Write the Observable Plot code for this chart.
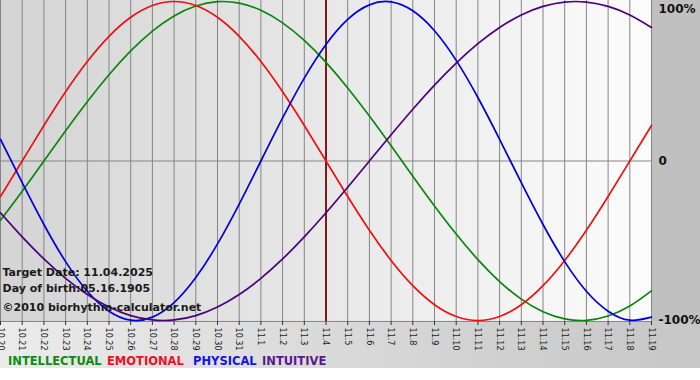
<!DOCTYPE html>
<html><head><meta charset="utf-8">
<script src="https://cdn.jsdelivr.net/npm/d3@7"></script>
<script src="https://cdn.jsdelivr.net/npm/@observablehq/plot@0.6"></script>
<style>
body{margin:0;background:#fff;}
#wrap{position:relative;width:700px;height:368px;
background:
 linear-gradient(to right,#d4d4d4,#fcfcfc) 0 0/651px 321px no-repeat,
 linear-gradient(#c0c0c0,#c0c0c0) 651px 0/49px 321px no-repeat,
 linear-gradient(to right,#ebebeb,#c6c6c6) 0 321px/700px 47px no-repeat;
font-family:"DejaVu Sans",Verdana,sans-serif;}
#chart svg{display:block;}
.leg{position:absolute;top:354px;font-weight:bold;font-size:11.5px;line-height:14px;white-space:nowrap;}
</style>
</head><body>
<div id="wrap"><div id="chart"></div>
<span class="leg" style="left:8px;color:#108a10">INTELLECTUAL</span>
<span class="leg" style="left:107px;color:#ee1122">EMOTIONAL</span>
<span class="leg" style="left:193px;color:#1414dd">PHYSICAL</span>
<span class="leg" style="left:262px;color:#5a1890">INTUITIVE</span>
</div>
<script>
// day offsets relative to the target date (11.04.2025)
const dayOffsets = d3.range(-15, 16);
const dayLabels = ["10.20","10.21","10.22","10.23","10.24","10.25","10.26","10.27","10.28","10.29","10.30","10.31",
  "11.1","11.2","11.3","11.4","11.5","11.6","11.7","11.8","11.9","11.10","11.11","11.12","11.13","11.14","11.15","11.16","11.17","11.18","11.19"];
const physical = [0.136,-0.136,-0.398,-0.631,-0.817,-0.942,-0.998,-0.979,-0.888,-0.731,-0.520,-0.270,0,0.270,0.520,0.731,
  0.888,0.979,0.998,0.942,0.817,0.631,0.398,0.136,-0.136,-0.398,-0.631,-0.817,-0.942,-0.998,-0.979];
const emotional = [-0.2225,0,0.2225,0.4339,0.6235,0.7818,0.9010,0.9749,1.0,0.9749,0.9010,0.7818,0.6235,0.4339,0.2225,0,
  -0.2225,-0.4339,-0.6235,-0.7818,-0.9010,-0.9749,-1.0,-0.9749,-0.9010,-0.7818,-0.6235,-0.4339,-0.2225,0,0.2225];
const intellectual = [-0.3717,-0.1893,0,0.1893,0.3717,0.5406,0.6901,0.8146,0.9096,0.9718,0.9989,0.9898,0.9450,0.8660,0.7557,0.6182,
  0.4582,0.2817,0.0951,-0.0951,-0.2817,-0.4582,-0.6182,-0.7557,-0.8660,-0.9450,-0.9898,-0.9989,-0.9718,-0.9096,-0.8146];
const intuitive = [-0.3247,-0.4759,-0.6142,-0.7357,-0.8372,-0.9158,-0.9694,-0.9966,-0.9966,-0.9694,-0.9158,-0.8372,-0.7357,-0.6142,-0.4759,-0.3247,
  -0.1646,0,0.1646,0.3247,0.4759,0.6142,0.7357,0.8372,0.9158,0.9694,0.9966,0.9966,0.9694,0.9158,0.8372];
const seriesNames = ["INTELLECTUAL","EMOTIONAL","PHYSICAL","INTUITIVE"];
const seriesColors = ["#0a870a","#ee1111","#0000dd","#4d0080"];
const yTicks = [1, 0, -1];
const yTickLabels = ["100%", "0", "-100%"];
const targetOffset = 0;
const infoLines = ["Target Date: 11.04.2025", "Day of birth:05.16.1905", "©2010 biorhythm-calculator.net"];

const seriesValues = [intellectual, emotional, physical, intuitive];
const rows = [];
seriesNames.forEach((name, s) => dayOffsets.forEach((d, i) => rows.push({series: name, day: d, value: seriesValues[s][i]})));

const chart = Plot.plot({
  width: 700, height: 345,
  marginTop: 0, marginLeft: 0, marginRight: 49, marginBottom: 24,
  style: {background: "transparent", fontFamily: "DejaVu Sans, Verdana, sans-serif", overflow: "visible"},
  x: {domain: [-15, 15], range: [0, 651], axis: null},
  y: {domain: [-1, 1], range: [320, 1], axis: null},
  color: {domain: seriesNames, range: seriesColors},
  marks: [
    Plot.ruleX(dayOffsets, {stroke: "#858585", strokeWidth: 1}),
    Plot.ruleY([0], {x1: -15, x2: 15, stroke: "#858585"}),
    Plot.ruleY([-1.006], {x1: -15, x2: 15, stroke: "#858585"}),
    Plot.ruleX([15], {stroke: "#858585"}),
    Plot.axisX(dayOffsets, {anchor: "bottom", label: null, tickFormat: (d, i) => dayLabels[i], tickRotate: 90, tickSize: 4,
      tickPadding: 2, fontSize: 9, fontFamily: "DejaVu Sans Condensed, DejaVu Sans, sans-serif", stroke: "#333", fill: "#222"}),
    Plot.ruleX([targetOffset], {stroke: "#7a1c1c", strokeWidth: 2}),
    Plot.line(rows, {x: "day", y: "value", z: "series", stroke: "series", strokeWidth: 1.7, curve: "natural"}),
    Plot.text(yTicks, {x: 15, y: d => d, text: (d, i) => yTickLabels[i], textAnchor: "start", dx: 7,
      fontWeight: "bold", fontSize: 12, fill: "#111"}),
    Plot.text([infoLines[0]], {frameAnchor: "bottom-left", dx: 2, dy: -49, lineAnchor: "middle", textAnchor: "start", fontWeight: "bold", fontSize: 11, fill: "#1a1a1a"}),
    Plot.text([infoLines[1]], {frameAnchor: "bottom-left", dx: 2, dy: -33, lineAnchor: "middle", textAnchor: "start", fontWeight: "bold", fontSize: 11, fill: "#1a1a1a"}),
    Plot.text([infoLines[2]], {frameAnchor: "bottom-left", dx: 2, dy: -14, lineAnchor: "middle", textAnchor: "start", fontWeight: "bold", fontSize: 11, fill: "#1a1a1a"})
  ]
});
document.getElementById("chart").appendChild(chart);
// nudge the top label down like the reference
chart.querySelectorAll("text").forEach(t => { if (t.textContent === "100%") t.setAttribute("dy", "8"); });
</script>
</body></html>
